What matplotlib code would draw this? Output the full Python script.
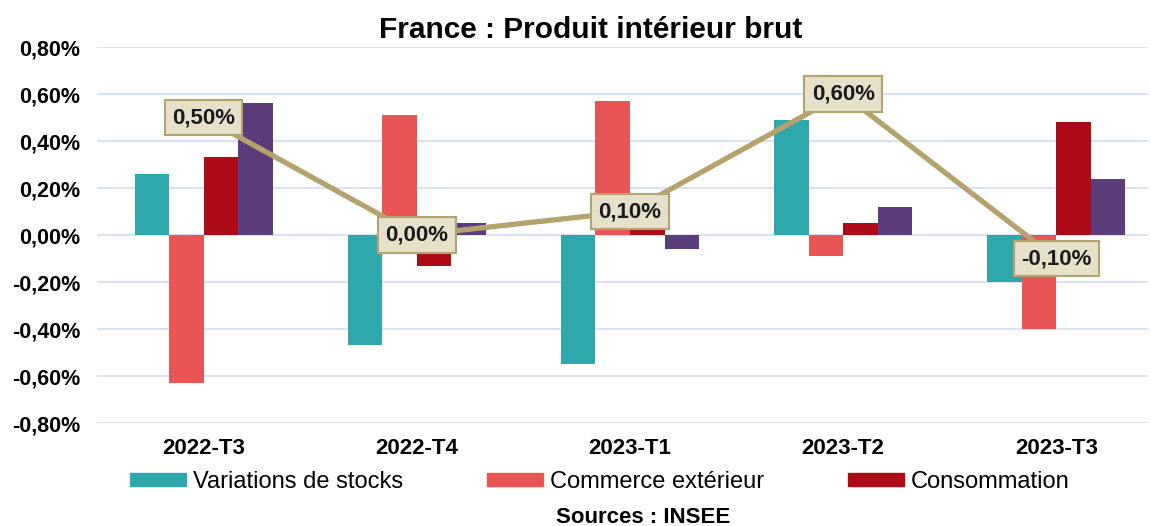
import matplotlib.pyplot as plt
from matplotlib.patches import Patch
import numpy as np

plt.rcParams['font.family'] = ['Liberation Sans', 'DejaVu Sans']

trimestres = ['2022-T3', '2022-T4', '2023-T1', '2023-T2', '2023-T3']
stocks = [0.26, -0.47, -0.55, 0.49, -0.20]
commerce = [-0.63, 0.51, 0.57, -0.09, -0.40]
consommation = [0.33, -0.13, 0.02, 0.05, 0.48]
investissement = [0.56, 0.05, -0.06, 0.12, 0.24]
pib = [0.50, 0.00, 0.10, 0.60, -0.10]
pib_labels = ['0,50%', '0,00%', '0,10%', '0,60%', '-0,10%']
yticks = [-0.8, -0.6, -0.4, -0.2, 0.0, 0.2, 0.4, 0.6, 0.8]
ytick_labels = ['-0,80%', '-0,60%', '-0,40%', '-0,20%', '0,00%', '0,20%', '0,40%', '0,60%', '0,80%']

c_stocks = '#2fa8ac'
c_comm = '#e95454'
c_conso = '#ad0b17'
c_inv = '#5a3d7a'
c_line = '#b4a36e'

fig = plt.figure(figsize=(11.51, 5.26), dpi=100)
ax = fig.add_axes([0.0843, 0.1958, 0.9131, 0.7148])

x = np.arange(len(trimestres))
w = 0.162
ax.bar(x - 1.5*w, stocks, w, color=c_stocks, zorder=2)
ax.bar(x - 0.5*w, commerce, w, color=c_comm, zorder=2)
ax.bar(x + 0.5*w, consommation, w, color=c_conso, zorder=2)
ax.bar(x + 1.5*w, investissement, w, color=c_inv, zorder=2)

ax.plot(x, pib, color=c_line, lw=3.8, zorder=3, solid_capstyle='butt')
for xi, yi, lab in zip(x, pib, pib_labels):
    ax.text(xi, yi, lab, ha='center', va='center', fontsize=16, fontweight='bold',
            color='#1a1a1a', zorder=4,
            bbox=dict(boxstyle='square,pad=0.33', fc='#e6dfc9', ec=c_line, lw=1.5))

ax.set_xlim(-0.5, 4.43)
ax.set_ylim(-0.8, 0.8)
ax.set_yticks(yticks)
ax.set_yticklabels(ytick_labels, fontsize=15.5, fontweight='bold')
ax.set_xticks(x)
ax.set_xticklabels(trimestres, fontsize=16, fontweight='bold')
ax.tick_params(axis='both', length=0)
ax.tick_params(axis='y', pad=12)
ax.tick_params(axis='x', pad=11)
ax.grid(axis='y', color='#d3dcf2', lw=1.2, zorder=0)
for s in ax.spines.values():
    s.set_visible(False)

fig.text(0.513, 0.943, 'France : Produit intérieur brut', ha='center', va='center',
         fontsize=21.5, fontweight='bold')

handles = [Patch(color=c_stocks), Patch(color=c_comm), Patch(color=c_conso)]
labels = ['Variations de stocks', 'Commerce extérieur', 'Consommation']
fig.legend(handles, labels, loc='center left', bbox_to_anchor=(0.113, 0.084), ncol=3,
           frameon=False, fontsize=17, handlelength=2.37, handleheight=0.5,
           handletextpad=0.3, columnspacing=3.55, borderpad=0, borderaxespad=0)

fig.text(0.559, 0.017, 'Sources : INSEE', ha='center', va='center',
         fontsize=16, fontweight='bold')

fig.savefig('out.png', dpi=100)
